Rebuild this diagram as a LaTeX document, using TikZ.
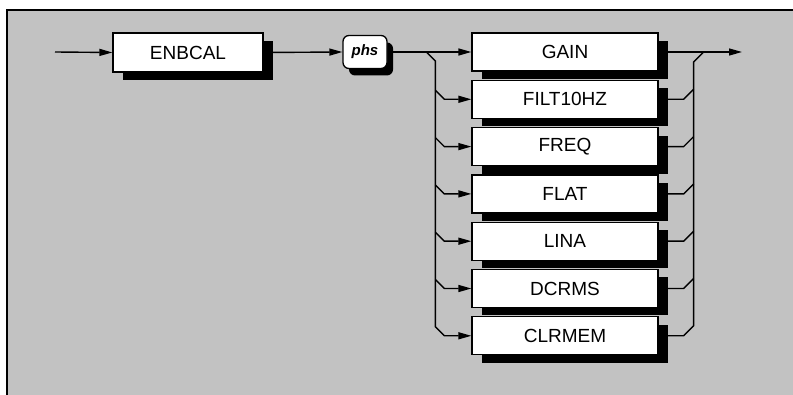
\documentclass[tikz,border=0pt]{standalone}
\usepackage{fontspec}
\setmainfont{Liberation Sans}
\usetikzlibrary{arrows.meta,shadows,calc}
\definecolor{bggray}{gray}{0.76}
\tikzset{
  line/.style={line width=1.4pt, draw=black},
  arr/.style={line, -{Triangle[length=13pt,width=7pt]}},
  kw/.style={draw=black, line width=1.3pt, fill=white, inner sep=0pt,
    minimum width=186pt, minimum height=38pt,
    font=\fontsize{19}{21}\selectfont,
    general shadow={fill=black, shadow xshift=10pt, shadow yshift=-8pt}},
  cmd/.style={kw, minimum width=150pt, minimum height=39pt},
  prm/.style={draw=black, line width=1.3pt, fill=white, inner sep=0pt,
    rounded corners=6pt, minimum width=44pt, minimum height=33pt,
    font=\fontsize{15}{17}\selectfont\bfseries\itshape,
    general shadow={fill=black, shadow xshift=6pt, shadow yshift=-7pt}}
}
\begin{document}
\begin{tikzpicture}[x=1pt,y=-1pt]
\useasboundingbox (0,0) rectangle (793,395);
\fill[bggray] (7,10) rectangle (793,395);
\draw[line width=1.6pt] (7,395) -- (7,10) -- (793,10);

\node[cmd] (enb) at (188,52.5) {ENBCAL};
\node[prm] (phs) at (365,52) {phs};

\node[kw] (gain) at (565,52) {GAIN};
\node[kw] (filt) at (565,99.3) {FILT10HZ};
\node[kw] (freq) at (565,146.6) {FREQ};
\node[kw] (flat) at (565,193.9) {FLAT};
\node[kw] (lina) at (565,241.2) {LINA};
\node[kw] (dcrms) at (565,288.5) {DCRMS};
\node[kw] (clrmem) at (565,335.8) {CLRMEM};

\coordinate (start) at (55,52);
\coordinate (exit) at (742,52);

\draw[arr] (start) -- (enb.west);
\draw[arr] (enb.east) -- (phs.west);
\draw[arr] (phs.east) -- (gain.west);
\draw[arr] (gain.east) -- (exit);

% left bus
\draw[arr] ($(gain.west)+(-45,0)$) -- ++(9,9) -- ($(clrmem.west)+(-36,-9)$) -- ++(9,9) -- (clrmem.west);
\foreach \b in {filt,freq,flat,lina,dcrms}
  \draw[arr] ($(\b.west)+(-36,-9)$) -- ++(9,9) -- (\b.west);

% right bus
\draw[line] (clrmem.east) -- ++(25,0) -- ++(10,-10) -- ($(gain.east)+(35,10)$) -- ++(10,-10);
\foreach \b in {filt,freq,flat,lina,dcrms}
  \draw[line] (\b.east) -- ++(25,0) -- ++(10,-10);
\end{tikzpicture}
\end{document}
